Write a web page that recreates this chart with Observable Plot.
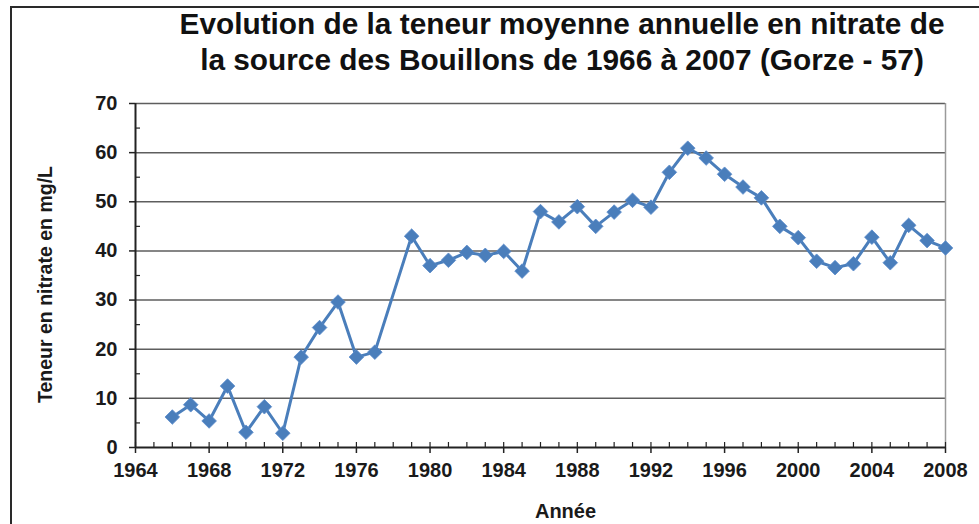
<!DOCTYPE html>
<html>
<head>
<meta charset="utf-8">
<script src="https://cdn.jsdelivr.net/npm/d3@7"></script>
<script src="https://cdn.jsdelivr.net/npm/@observablehq/plot@0.6"></script>
<style>
  html, body { margin: 0; padding: 0; background: #fff; }
  #wrap { position: relative; width: 979px; height: 524px; overflow: hidden; background: #fff; }
  #border { position: absolute; left: 10px; top: 6px; width: 1000px; height: 600px;
            border-left: 2px solid #2a2a2a; border-top: 2px solid #2a2a2a; }
  #title { position: absolute; left: 112px; width: 900px; top: 6px; text-align: center;
           font-family: "Liberation Sans", Arial, sans-serif; font-weight: bold; font-size: 29.8px;
           line-height: 36px; color: #111; white-space: nowrap; }
  #chart { position: absolute; left: 0; top: 0; }
</style>
</head>
<body>
<div id="wrap">
  <div id="border"></div>
  <div id="chart"></div>
  <div id="title">Evolution de la teneur moyenne annuelle en nitrate de<br>la source des Bouillons de 1966 à 2007 (Gorze - 57)</div>
</div>
<script>
const years = [1966, 1967, 1968, 1969, 1970, 1971, 1972, 1973, 1974, 1975, 1976, 1977,
               1979, 1980, 1981, 1982, 1983, 1984, 1985, 1986, 1987, 1988, 1989, 1990,
               1991, 1992, 1993, 1994, 1995, 1996, 1997, 1998, 1999, 2000, 2001, 2002,
               2003, 2004, 2005, 2006, 2007, 2008];
const values = [6.2, 8.7, 5.4, 12.5, 3.1, 8.3, 2.9, 18.4, 24.4, 29.6, 18.4, 19.4,
                43.0, 37.0, 38.1, 39.7, 39.1, 39.9, 35.9, 48.0, 45.9, 49.0, 45.0, 47.9,
                50.3, 48.9, 56.0, 60.9, 58.9, 55.6, 53.0, 50.8, 45.0, 42.7, 37.9, 36.6,
                37.4, 42.8, 37.6, 45.2, 42.1, 40.6];
const xMajorTicks = [1964, 1968, 1972, 1976, 1980, 1984, 1988, 1992, 1996, 2000, 2004, 2008];
const xMinorTicks = d3.range(1964, 2009, 1);
const yMajorTicks = [0, 10, 20, 30, 40, 50, 60, 70];
const yMinorTicks = [5, 15, 25, 35, 45, 55, 65];
const yLabel = "Teneur en nitrate en mg/L";
const xLabel = "Année";

const data = years.map((y, i) => ({year: y, value: values[i]}));
const blue = "#4a7ebb";
const axisColor = "#222";

const chart = Plot.plot({
  width: 979,
  height: 524,
  marginTop: 103,
  marginBottom: 77,
  marginLeft: 135,
  marginRight: 34,
  style: {fontFamily: "'Liberation Sans', Arial, sans-serif", fontWeight: "bold", fontSize: "20px", color: "#1a1a1a", background: "transparent"},
  x: {domain: [1964, 2008]},
  y: {domain: [0, 70]},
  marks: [
    Plot.ruleY(yMajorTicks.filter(d => d > 0), {stroke: "#5e5e5e", strokeWidth: 1.5}),
    Plot.ruleX([2008], {stroke: "#9a9a9a", strokeWidth: 1.5}),
    Plot.axisY({ticks: yMajorTicks, tickSize: 6, tickPadding: 12, tickFormat: "d", label: null, stroke: axisColor, strokeWidth: 1.5, fill: "#1a1a1a"}),
    Plot.axisY({ticks: yMinorTicks, tickSize: -5, tickFormat: () => "", label: null, stroke: axisColor, strokeWidth: 1.2}),
    Plot.axisX({ticks: xMajorTicks, tickSize: 6, tickPadding: 9, tickFormat: "d", label: null, stroke: axisColor, strokeWidth: 1.5, fill: "#1a1a1a"}),
    Plot.axisX({ticks: xMinorTicks, tickSize: -5, tickFormat: () => "", label: null, stroke: axisColor, strokeWidth: 1.2}),
    Plot.ruleX([1964], {stroke: axisColor, strokeWidth: 2}),
    Plot.ruleY([0], {stroke: axisColor, strokeWidth: 2}),
    Plot.line(data, {x: "year", y: "value", stroke: blue, strokeWidth: 3}),
    Plot.dot(data, {x: "year", y: "value", symbol: "diamond2", r: 6.6, fill: blue, stroke: "#5b8ccc", strokeWidth: 0.8}),
    Plot.text([yLabel], {frameAnchor: "left", textAnchor: "middle", lineAnchor: "middle", rotate: -90, dx: -90, dy: 9, fontSize: 19.5, fontWeight: "bold", fill: "#1a1a1a"}),
    Plot.text([xLabel], {frameAnchor: "bottom", textAnchor: "middle", lineAnchor: "middle", dx: 25, dy: 64, fontSize: 20, fontWeight: "bold", fill: "#1a1a1a"})
  ]
});
document.getElementById("chart").appendChild(chart);
</script>
</body>
</html>
